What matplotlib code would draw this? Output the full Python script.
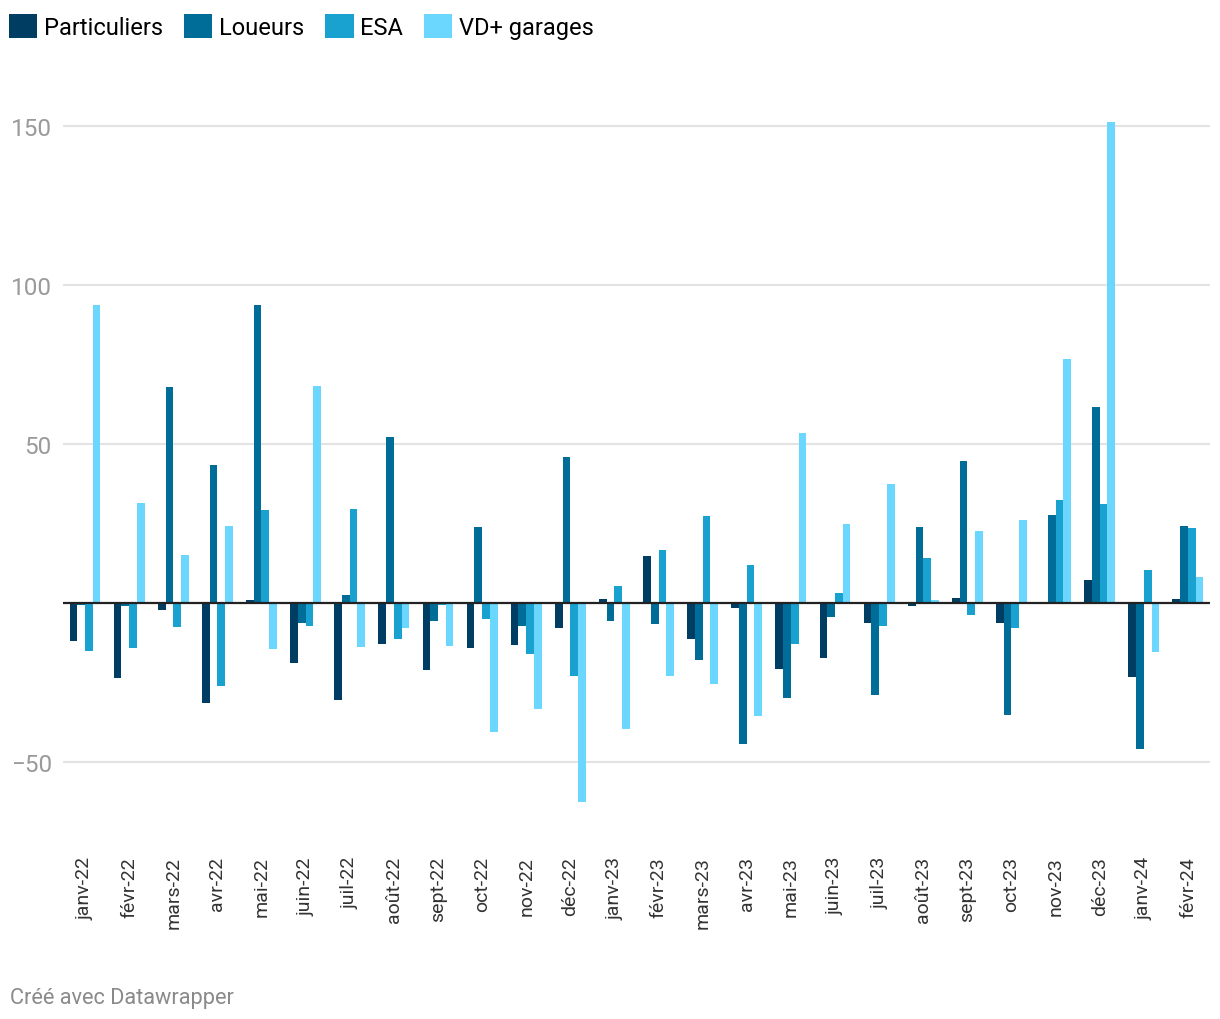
import numpy as np
import matplotlib.pyplot as plt
from matplotlib.patches import Patch

plt.rcParams['font.family'] = ['Roboto', 'DejaVu Sans']

mois = ['janv-22', 'févr-22', 'mars-22', 'avr-22', 'mai-22', 'juin-22', 'juil-22',
        'août-22', 'sept-22', 'oct-22', 'nov-22', 'déc-22', 'janv-23', 'févr-23',
        'mars-23', 'avr-23', 'mai-23', 'juin-23', 'juil-23', 'août-23', 'sept-23',
        'oct-23', 'nov-23', 'déc-23', 'janv-24', 'févr-24']

particuliers = [-12.0, -23.5, -2.2, -31.4, 0.9, -18.7, -30.4, -12.8, -21.0, -14.1,
                -13.1, -7.8, 1.2, 14.7, -11.2, -1.6, -20.7, -17.3, -6.2, -0.9,
                1.7, -6.2, 0.0, 7.3, -23.2, 1.2]
loueurs = [-0.6, -0.9, 68.0, 43.5, 93.7, -6.2, 2.4, 52.3, -5.6, 23.8,
           -7.2, 46.0, -5.6, -6.6, -17.9, -44.2, -29.8, -4.3, -28.8, 23.8,
           44.8, -35.2, 27.8, 61.7, -45.8, 24.4]
esa = [-15.0, -14.1, -7.5, -26.1, 29.4, -7.2, 29.7, -11.2, -0.7, -5.0,
       -16.0, -22.9, 5.5, 16.6, 27.5, 12.1, -12.8, 3.3, -7.2, 14.3,
       -3.7, -7.8, 32.3, 31.3, 10.5, 23.5]
vd_garages = [93.7, 31.6, 15.0, 24.4, -14.4, 68.3, -13.8, -7.8, -13.4, -40.5,
              -33.3, -62.4, -39.5, -22.9, -25.4, -35.4, 53.6, 24.9, 37.6, 0.9,
              22.8, 26.2, 76.8, 151.4, -15.3, 8.1]

series = ['Particuliers', 'Loueurs', 'ESA', 'VD+ garages']
couleurs = ['#003d62', '#006d98', '#19a2cf', '#6bd7fe']
valeurs = [particuliers, loueurs, esa, vd_garages]

fig = plt.figure(figsize=(12.2, 10.2), dpi=100)
ax = fig.add_axes([0.0516, 0.202, 0.9402, 0.692])

x = np.arange(len(mois))
w = 0.175
for i, (nom, c, v) in enumerate(zip(series, couleurs, valeurs)):
    ax.bar(x + (i - 1.5) * w, v, width=w, color=c, label=nom, zorder=3)

ax.axhline(0, color='#222222', lw=1.6, zorder=4)
ax.set_xlim(-0.5, len(mois) - 0.5)
ax.set_ylim(-66, 156)
ax.set_yticks([-50, 50, 100, 150])
ax.yaxis.grid(True, color='#e3e3e3', lw=1.5, zorder=0)
ax.tick_params(axis='y', length=0, pad=8, labelsize=17.5, labelcolor='#9a9a9a')
ax.set_xticks(x)
ax.set_xticklabels(mois, rotation=90, fontsize=14, color='#333333')
ax.tick_params(axis='x', length=0, pad=31)
for s in ax.spines.values():
    s.set_visible(False)

handles = [Patch(facecolor=c, label=n) for n, c in zip(series, couleurs)]
fig.legend(handles=handles, loc='upper left', bbox_to_anchor=(-0.008, 1.004),
           ncol=4, frameon=False, fontsize=17, handlelength=1.2, handleheight=1.2,
           handletextpad=0.27, columnspacing=0.9, borderaxespad=0.4)

fig.text(0.008, 0.016, 'Créé avec Datawrapper', fontsize=15.7, color='#8a8a8a')

fig.savefig('out.png', dpi=100, facecolor='white')
